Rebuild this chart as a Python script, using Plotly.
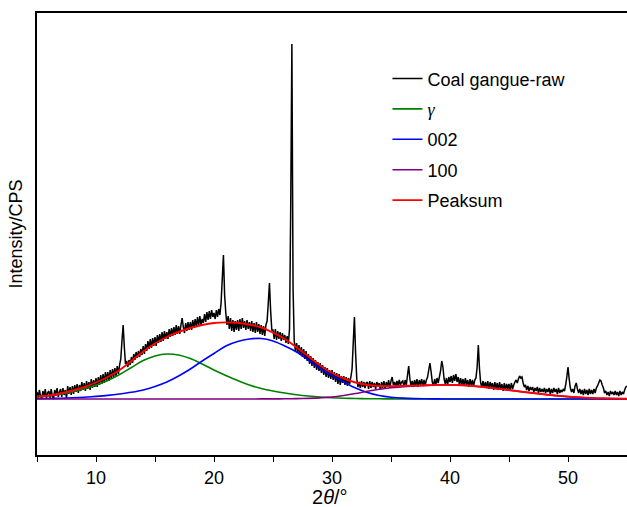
import numpy as np
import plotly.graph_objects as go

# ---- raw XRD pattern (2theta from 5.0 to 55.0, step 0.1), intensity in arbitrary units
raw_start = 5.0
raw_step = 0.1
raw_y = [
    7, 1, 9, 3, 0, 8, 2, 10, 1, 6,           # 5
    8, 1, 10, 3, 0, 9, 4, 11, 2, 7,          # 6
    10, 2, 11, 4, 9, 1, 13, 5, 12, 4,        # 7
    13, 5, 14, 7, 15, 6, 14, 8, 17, 9,       # 8
    16, 8, 18, 10, 17, 9, 20, 11, 19, 12,    # 9
    21, 12, 22, 14, 24, 15, 25, 16, 27, 18,  # 10
    27, 18, 29, 20, 30, 22, 31, 23, 33, 25,  # 11
    34, 40, 58, 74, 52, 35, 38, 32, 39, 34,  # 12
    42, 36, 45, 39, 47, 41, 48, 42, 50, 44,  # 13
    53, 45, 55, 48, 58, 50, 60, 51, 61, 53,  # 14
    62, 53, 64, 56, 65, 57, 67, 58, 68, 60,  # 15
    67, 60, 70, 62, 71, 63, 72, 64, 74, 65,  # 16
    73, 65, 74, 81, 72, 66, 76, 68, 77, 69,  # 17
    77, 69, 79, 71, 80, 72, 82, 73, 83, 74,  # 18
    80, 76, 85, 77, 87, 79, 88, 80, 89, 82,  # 19
    86, 80, 89, 82, 90, 84, 96, 120, 144, 104,  # 20
    86, 74, 83, 70, 81, 68, 79, 67, 78, 69,  # 21
    79, 68, 80, 70, 81, 71, 78, 69, 79, 70,  # 22
    77, 68, 78, 67, 76, 66, 77, 67, 75, 65,  # 23
    74, 64, 73, 63, 74, 78, 96, 116, 88, 69,  # 24
    69, 60, 70, 59, 68, 60, 67, 58, 66, 59,  # 25
    64, 56, 63, 55, 70, 190, 355, 110, 58, 48,  # 26
    56, 46, 54, 44, 52, 42, 50, 40, 48, 38,  # 27
    45, 35, 43, 33, 41, 31, 39, 29, 37, 28,  # 28
    36, 26, 34, 24, 32, 22, 31, 21, 29, 20,  # 29
    29, 19, 27, 17, 26, 15, 25, 14, 23, 16,  # 30
    23, 14, 22, 13, 21, 15, 22, 30, 56, 82,  # 31
    46, 20, 12, 17, 11, 18, 12, 17, 11, 16,  # 32
    17, 10, 18, 11, 17, 12, 16, 10, 17, 13,  # 33
    16, 9, 17, 11, 18, 10, 17, 12, 19, 11,   # 34
    18, 22, 14, 17, 12, 18, 13, 19, 14, 17,  # 35
    18, 12, 19, 14, 24, 33, 20, 13, 18, 12,  # 36
    19, 13, 20, 12, 19, 14, 20, 13, 19, 14,  # 37
    19, 22, 29, 36, 27, 17, 13, 20, 14, 21,  # 38
    16, 22, 28, 38, 32, 20, 15, 21, 14, 22,  # 39
    17, 23, 16, 24, 18, 25, 17, 22, 14, 21,  # 40
    14, 20, 13, 21, 14, 19, 12, 20, 13, 19,  # 41
    13, 19, 21, 32, 54, 30, 16, 12, 18, 11,  # 42
    17, 11, 18, 10, 17, 12, 16, 9, 17, 10,   # 43
    16, 9, 17, 10, 15, 8, 16, 9, 15, 10,     # 44
    15, 9, 16, 10, 14, 17, 19, 16, 20, 23,   # 45
    21, 22, 16, 12, 14, 9, 13, 8, 12, 9,     # 46
    12, 7, 11, 8, 12, 6, 11, 7, 10, 7,       # 47
    11, 6, 10, 7, 11, 5, 10, 6, 11, 7,       # 48
    10, 5, 11, 6, 9, 7, 10, 8, 14, 22,       # 49
    32, 20, 11, 7, 10, 6, 13, 16, 10, 6,     # 50
    10, 5, 9, 4, 10, 5, 9, 4, 10, 5,         # 51
    9, 5, 10, 6, 11, 13, 16, 19, 18, 14,     # 52
    11, 6, 8, 4, 7, 3, 8, 5, 7, 4,           # 53
    8, 4, 7, 3, 8, 4, 7, 5, 9, 12,           # 54
    13,                                      # 55
]
raw_x = np.round(raw_start + raw_step * np.arange(len(raw_y)), 1)

# ---- fitted components, sampled at whole degrees 5..55
fit_x = list(range(5, 56))
gamma_y = [2, 3, 4.8, 7.2, 10.2, 14, 18.5, 24.5, 31.5, 38.5, 43, 45, 44, 40.5,
           35, 29, 23.5, 18.5, 14, 10.5, 8, 6, 4.3, 3, 2, 1.3, 0.8, 0.5, 0.3,
           0.2, 0.1] + [0] * 20
p002_y = [0.3, 0.5, 0.8, 1.2, 1.8, 2.6, 3.6, 5, 6.7, 9, 12.5, 17, 23, 30, 38,
          45.5, 53, 57.5, 60, 60.5, 58, 53, 47, 39, 30.5, 23.5, 17, 11, 6.5,
          3.5, 1.8, 0.9, 0.4, 0.2, 0.1] + [0] * 16
p100_y = [0] * 19 + [0.1, 0.15, 0.2, 0.35, 0.6, 1.1, 1.9, 3.5, 5.5, 7.8, 9.7,
          11.2, 12.2, 13, 13.6, 14, 14.1, 13.8, 13, 11.8, 10.4, 8.9, 7.4, 6,
          4.6, 3.4, 2.4, 1.6, 1, 0.6, 0.35, 0.2]
peaksum_y = [2.5, 3.5, 5.5, 8.5, 12, 16.5, 22, 29, 38, 47.5, 55.5, 62, 67, 71,
             74, 76, 76.6, 76.2, 74.3, 71.5, 66.3, 60, 51.5, 42.5, 33.5, 26,
             20.5, 16.5, 14, 13, 12.9, 13.1, 13.4, 13.7, 14.1, 14.1, 13.8, 13,
             11.8, 10.4, 8.9, 7.4, 6, 4.6, 3.4, 2.4, 1.6, 1, 0.6, 0.35, 0.2]

names = ["Coal gangue-raw",
         "<span style=\"font-family:'Liberation Serif'\"><i>γ</i></span>",
         "002", "100", "Peaksum"]
colors = ["#000000", "#008000", "#0000ff", "#800080", "#ff0000"]

FONT = "Arial, Liberation Sans, sans-serif"

fig = go.Figure()
fig.add_trace(go.Scatter(x=raw_x, y=raw_y, mode="lines", name=names[0],
                         line=dict(color=colors[0], width=1.5, simplify=False),
                         legendgroup="a"))
for nm, yy, col, g in zip(names[1:4], [gamma_y, p002_y, p100_y], colors[1:4], "bcd"):
    fig.add_trace(go.Scatter(x=fit_x, y=yy, mode="lines", name=nm,
                             line=dict(color=col, width=1.6, shape="spline"),
                             legendgroup=g))
fig.add_trace(go.Scatter(x=fit_x, y=peaksum_y, mode="lines", name=names[4],
                         line=dict(color=colors[4], width=1.9, shape="spline"),
                         legendgroup="e"))

fig.add_annotation(text="2<i>θ</i>/°", xref="paper", yref="paper",
                   x=0.497, y=-0.095, xanchor="center", yanchor="middle",
                   showarrow=False, font=dict(size=20))

fig.update_layout(
    width=627, height=507,
    margin=dict(l=37, r=0, t=13, b=52),
    paper_bgcolor="white", plot_bgcolor="white",
    font=dict(family=FONT, size=18, color="black"),
    showlegend=True,
    legend=dict(x=0.594, y=0.893, xanchor="left", yanchor="top",
                bgcolor="rgba(0,0,0,0)", borderwidth=0,
                font=dict(size=18), tracegroupgap=4, traceorder="grouped"),
    xaxis=dict(range=[5, 55], tickvals=[10, 20, 30, 40, 50],
               ticks="outside", ticklen=5, tickwidth=1.3, tickcolor="black",
               minor=dict(tickvals=[5, 15, 25, 35, 45, 55], ticks="outside",
                          ticklen=5, tickwidth=1.3, tickcolor="black"),
               showline=True, linecolor="black", linewidth=1.8, mirror=True,
               showgrid=False, zeroline=False,
               tickfont=dict(size=18)),
    yaxis=dict(range=[-56, 386], showticklabels=False, ticks="",
               showline=True, linecolor="black", linewidth=1.8, mirror=False,
               showgrid=False, zeroline=False,
               title=dict(text="Intensity/CPS", font=dict(size=18), standoff=8)),
)

fig.write_html("out.html")
